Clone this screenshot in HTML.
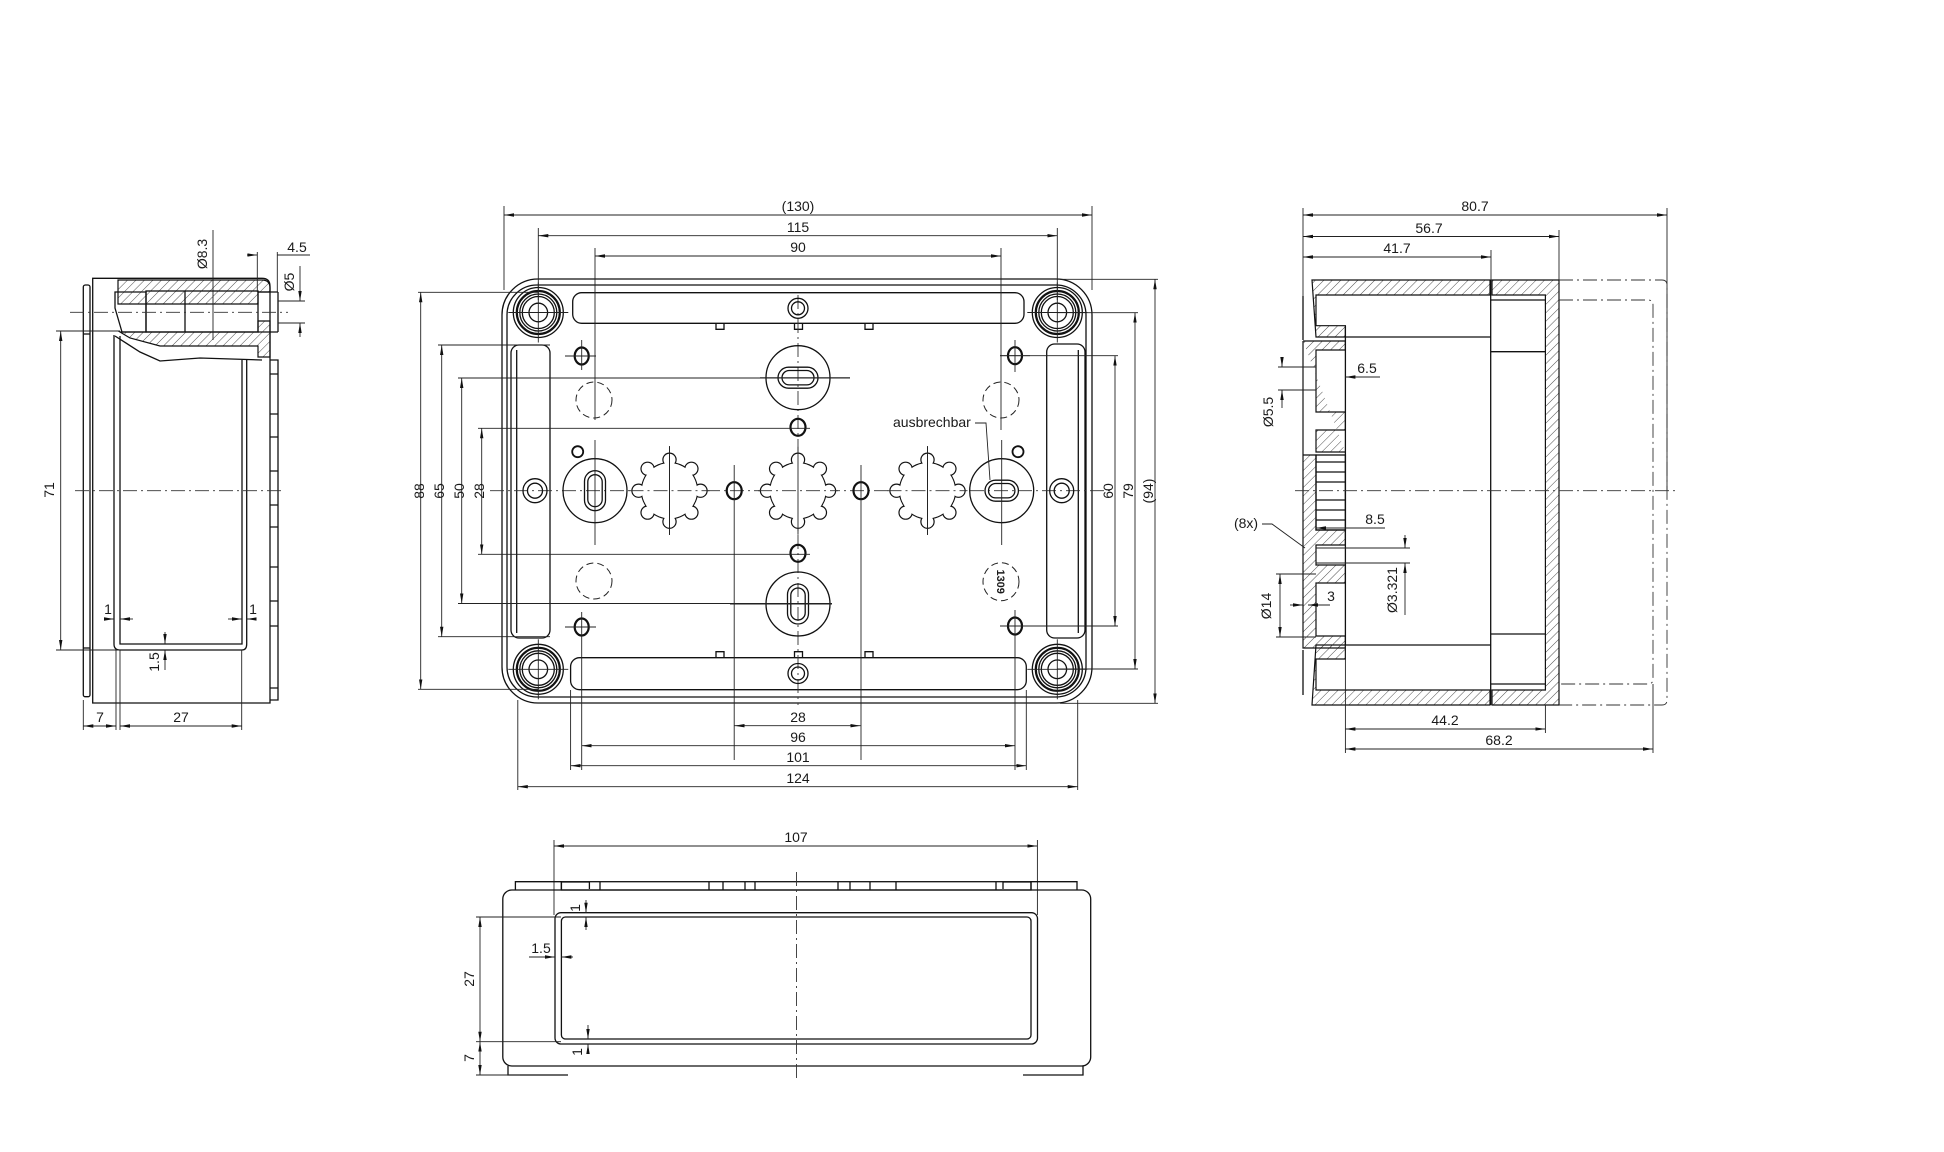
<!DOCTYPE html>
<html><head><meta charset="utf-8"><style>
html,body{margin:0;padding:0;background:#fff}
svg{display:block}
text{font-family:"Liberation Sans",sans-serif;fill:#1a1a1a}
.o{fill:none;stroke:#111;stroke-width:1.3}
.t{fill:none;stroke:#111;stroke-width:2.2}
.d{fill:none;stroke:#222;stroke-width:0.9}
.c{fill:none;stroke:#333;stroke-width:0.9;stroke-dasharray:14 4 2 4}
.dc{fill:none;stroke:#222;stroke-width:1;stroke-dasharray:7 4}
</style></head><body>
<svg width="1944" height="1152" viewBox="0 0 1944 1152" xmlns="http://www.w3.org/2000/svg">
<defs>
<marker id="a" viewBox="0 0 10 6" refX="10" refY="3" markerWidth="10" markerHeight="6" markerUnits="userSpaceOnUse" orient="auto-start-reverse"><path d="M0,1.3 L10,3 L0,4.7z" fill="#111"/></marker>
<pattern id="h" width="6" height="6" patternUnits="userSpaceOnUse" patternTransform="rotate(45)"><line x1="0" y1="0" x2="0" y2="6" stroke="#222" stroke-width="0.8"/></pattern>
<g id="star">
<g fill="#111"><circle r="28.7"/><circle cx="31" cy="0" r="7.2"/><circle cx="-31" cy="0" r="7.2"/><circle cx="0" cy="31" r="7.2"/><circle cx="0" cy="-31" r="7.2"/><circle cx="21.9" cy="21.9" r="7.2"/><circle cx="-21.9" cy="21.9" r="7.2"/><circle cx="21.9" cy="-21.9" r="7.2"/><circle cx="-21.9" cy="-21.9" r="7.2"/></g>
<g fill="#fff"><circle r="27.6"/><circle cx="31" cy="0" r="6"/><circle cx="-31" cy="0" r="6"/><circle cx="0" cy="31" r="6"/><circle cx="0" cy="-31" r="6"/><circle cx="21.9" cy="21.9" r="6"/><circle cx="-21.9" cy="21.9" r="6"/><circle cx="21.9" cy="-21.9" r="6"/><circle cx="-21.9" cy="-21.9" r="6"/></g>
<line class="c" x1="-40" y1="0" x2="40" y2="0"/><line class="d" x1="0" y1="-44" x2="0" y2="44"/>
</g>
<g id="screw"><circle class="o" r="25"/><circle class="t" r="21.5"/><circle class="o" r="18.5"/><circle class="o" r="16"/><circle class="o" r="9.3"/><line class="d" x1="-30" y1="0" x2="30" y2="0"/><line class="d" x1="0" y1="-30" x2="0" y2="30"/></g>
</defs>

<!-- ============ FRONT VIEW ============ -->
<rect class="o" x="502" y="279" width="590" height="424" rx="36"/>
<rect class="o" x="507" y="285" width="579" height="412" rx="30"/>
<rect class="o" x="572.7" y="292.7" width="451.3" height="30.6" rx="9"/>
<rect class="o" x="570.6" y="657.7" width="455.7" height="32" rx="9"/>
<rect class="o" x="511" y="345" width="39" height="293" rx="8"/>
<line class="o" x1="516.7" y1="350" x2="516.7" y2="633"/>
<rect class="o" x="1046.7" y="344" width="38.3" height="294" rx="8"/>
<line class="o" x1="1078.3" y1="350" x2="1078.3" y2="633"/>
<!-- notches -->
<path class="o" d="M716,323.3 v6 h8 v-6 M794.5,323.3 v6 h8 v-6 M865,323.3 v6 h8 v-6 M716,657.7 v-6 h8 v6 M794.5,657.7 v-6 h8 v6 M865,657.7 v-6 h8 v6"/>
<use href="#screw" x="538.3" y="312.5"/>
<use href="#screw" x="1057.3" y="312.5"/>
<use href="#screw" x="538.3" y="669.3"/>
<use href="#screw" x="1057.3" y="669.3"/>
<!-- centerlines -->
<line class="c" x1="490" y1="490.7" x2="1112" y2="490.7"/>
<line class="c" x1="798" y1="295" x2="798" y2="705"/>
<!-- small double circles -->
<circle class="o" cx="798" cy="308.3" r="10"/><circle class="o" cx="798" cy="308.3" r="6.5"/>
<circle class="o" cx="798" cy="673.5" r="10"/><circle class="o" cx="798" cy="673.5" r="6.5"/>
<circle class="o" cx="535" cy="490.7" r="12"/><circle class="o" cx="535" cy="490.7" r="7.5"/>
<circle class="o" cx="1061.7" cy="490.7" r="12"/><circle class="o" cx="1061.7" cy="490.7" r="7.5"/>
<!-- big round knockouts -->
<circle class="o" cx="798" cy="377.7" r="32"/>
<rect class="o" x="778" y="367.2" width="40" height="21" rx="10.5"/><rect class="o" x="782" y="370.5" width="32" height="14.4" rx="7.2"/>
<line class="d" x1="760" y1="377.7" x2="850" y2="377.7"/>
<circle class="o" cx="798" cy="604" r="32"/>
<rect class="o" x="787.5" y="584" width="21" height="40" rx="10.5"/><rect class="o" x="790.8" y="588" width="14.4" height="32" rx="7.2"/>
<line class="d" x1="730" y1="604" x2="832" y2="604"/>
<circle class="o" cx="595" cy="490.7" r="32"/>
<rect class="o" x="584.5" y="470.7" width="21" height="40" rx="10.5"/><rect class="o" x="587.8" y="474.7" width="14.4" height="32" rx="7.2"/>
<circle class="o" cx="1001.7" cy="490.7" r="32"/>
<rect class="o" x="985" y="480.2" width="33.4" height="21" rx="10.5"/><rect class="o" x="988.5" y="483.5" width="26.4" height="14.4" rx="7.2"/>
<!-- stars -->
<use href="#star" x="669.5" y="490.7"/>
<use href="#star" x="798" y="490.7"/>
<use href="#star" x="927.5" y="490.7"/>
<!-- thick small circles -->
<g class="t">
<ellipse cx="734.2" cy="490.7" rx="7.5" ry="8.5"/><ellipse cx="861" cy="490.7" rx="7.5" ry="8.5"/>
<ellipse cx="798" cy="427.3" rx="7.5" ry="8.5"/><ellipse cx="798" cy="553.3" rx="7.5" ry="8.5"/>
<ellipse cx="581.7" cy="356" rx="7" ry="8.5"/><ellipse cx="1015" cy="355.7" rx="7" ry="8.5"/>
<ellipse cx="581.7" cy="627" rx="7" ry="8.5"/><ellipse cx="1015" cy="626" rx="7" ry="8.5"/>
</g>
<circle class="t" cx="577.7" cy="451.7" r="5.5" style="stroke-width:1.8"/>
<circle class="t" cx="1018" cy="451.7" r="5.5" style="stroke-width:1.8"/>
<!-- feature centerlines -->
<g class="d">
<line x1="595" y1="440" x2="595" y2="545"/><line x1="1001.7" y1="440" x2="1001.7" y2="545"/>
<line x1="734.2" y1="465" x2="734.2" y2="760"/><line x1="861" y1="465" x2="861" y2="760"/>
<line x1="565" y1="356" x2="596" y2="356"/><line x1="1000" y1="355.7" x2="1030" y2="355.7"/>
<line x1="565" y1="627" x2="596" y2="627"/><line x1="1000" y1="626" x2="1030" y2="626"/>
<line x1="581.7" y1="340" x2="581.7" y2="370"/><line x1="1015" y1="340" x2="1015" y2="372"/>
<line x1="581.7" y1="612" x2="581.7" y2="770"/><line x1="1015" y1="610" x2="1015" y2="770"/>
<line x1="669.5" y1="446" x2="669.5" y2="535"/><line x1="927.5" y1="446" x2="927.5" y2="535"/>
</g>
<!-- dashed circles -->
<circle class="dc" cx="594" cy="400" r="18"/><circle class="dc" cx="1001" cy="400" r="18"/>
<circle class="dc" cx="594" cy="581" r="18"/><ellipse class="dc" cx="1001" cy="581.7" rx="18" ry="19"/>
<text x="1001" y="581.7" font-size="11" font-weight="bold" text-anchor="middle" transform="rotate(90 1001 581.7)" dy="4">1309</text>
<!-- ausbrechbar -->
<text x="893" y="427" font-size="14">ausbrechbar</text>
<path class="d" d="M975,423 h11 l4,57"/>

<!-- top dims -->
<g class="d">
<line x1="504" y1="206" x2="504" y2="290"/><line x1="1092" y1="206" x2="1092" y2="290"/>
<line x1="504" y1="215" x2="1092" y2="215" marker-start="url(#a)" marker-end="url(#a)"/>
<line x1="538.3" y1="228" x2="538.3" y2="300"/><line x1="1057.3" y1="228" x2="1057.3" y2="300"/>
<line x1="538.3" y1="235.7" x2="1057.3" y2="235.7" marker-start="url(#a)" marker-end="url(#a)"/>
<line x1="595" y1="248" x2="595" y2="420"/><line x1="1001" y1="248" x2="1001" y2="430"/>
<line x1="595" y1="256" x2="1001" y2="256" marker-start="url(#a)" marker-end="url(#a)"/>
</g>
<text x="798" y="211" font-size="14" text-anchor="middle">(130)</text>
<text x="798" y="232" font-size="14" text-anchor="middle">115</text>
<text x="798" y="252" font-size="14" text-anchor="middle">90</text>
<!-- left dims -->
<g class="d">
<line x1="418" y1="292.3" x2="538" y2="292.3"/><line x1="418" y1="689.3" x2="538" y2="689.3"/>
<line x1="420.7" y1="292.3" x2="420.7" y2="689.3" marker-start="url(#a)" marker-end="url(#a)"/>
<line x1="438" y1="345" x2="550" y2="345"/><line x1="438" y1="636.7" x2="550" y2="636.7"/>
<line x1="441.7" y1="345" x2="441.7" y2="636.7" marker-start="url(#a)" marker-end="url(#a)"/>
<line x1="458" y1="378" x2="850" y2="378"/><line x1="458" y1="603.5" x2="832" y2="603.5"/>
<line x1="461.7" y1="378" x2="461.7" y2="603.5" marker-start="url(#a)" marker-end="url(#a)"/>
<line x1="478" y1="428.3" x2="810" y2="428.3"/><line x1="478" y1="554.3" x2="810" y2="554.3"/>
<line x1="481.7" y1="428.3" x2="481.7" y2="554.3" marker-start="url(#a)" marker-end="url(#a)"/>
</g>
<g font-size="14" text-anchor="middle">
<text transform="translate(427 491) rotate(-90)" dy="-3">88</text>
<text transform="translate(447 491) rotate(-90)" dy="-3">65</text>
<text transform="translate(467 491) rotate(-90)" dy="-3">50</text>
<text transform="translate(487 491) rotate(-90)" dy="-3">28</text>
</g>
<!-- right dims -->
<g class="d">
<line x1="1000" y1="355.7" x2="1118" y2="355.7"/><line x1="1000" y1="626" x2="1118" y2="626"/>
<line x1="1115" y1="355.7" x2="1115" y2="626" marker-start="url(#a)" marker-end="url(#a)"/>
<line x1="1057" y1="312.7" x2="1138" y2="312.7"/><line x1="1057" y1="669" x2="1138" y2="669"/>
<line x1="1135" y1="312.7" x2="1135" y2="669" marker-start="url(#a)" marker-end="url(#a)"/>
<line x1="1060" y1="279.3" x2="1158" y2="279.3"/><line x1="1060" y1="703.3" x2="1158" y2="703.3"/>
<line x1="1155" y1="279.3" x2="1155" y2="703.3" marker-start="url(#a)" marker-end="url(#a)"/>
</g>
<g font-size="14" text-anchor="middle">
<text transform="translate(1108 491) rotate(-90)" dy="5">60</text>
<text transform="translate(1128 491) rotate(-90)" dy="5">79</text>
<text transform="translate(1148 491) rotate(-90)" dy="5">(94)</text>
</g>
<!-- bottom dims -->
<g class="d">
<line x1="734.5" y1="725.7" x2="860.5" y2="725.7" marker-start="url(#a)" marker-end="url(#a)"/>
<line x1="581.7" y1="745.7" x2="1015" y2="745.7" marker-start="url(#a)" marker-end="url(#a)"/>
<line x1="570.6" y1="690" x2="570.6" y2="770"/><line x1="1026.3" y1="690" x2="1026.3" y2="770"/>
<line x1="570.6" y1="765.7" x2="1026.3" y2="765.7" marker-start="url(#a)" marker-end="url(#a)"/>
<line x1="517.8" y1="700" x2="517.8" y2="790"/><line x1="1077.7" y1="700" x2="1077.7" y2="790"/>
<line x1="517.8" y1="786.7" x2="1077.7" y2="786.7" marker-start="url(#a)" marker-end="url(#a)"/>
</g>
<g font-size="14" text-anchor="middle">
<text x="798" y="722">28</text><text x="798" y="742">96</text><text x="798" y="762">101</text><text x="798" y="783">124</text>
</g>

<!-- ============ BOTTOM VIEW ============ -->
<g class="d">
<line x1="554" y1="840" x2="554" y2="915"/><line x1="1037.4" y1="840" x2="1037.4" y2="915"/>
<line x1="554" y1="846" x2="1037.4" y2="846" marker-start="url(#a)" marker-end="url(#a)"/>
</g>
<text x="796" y="842" font-size="14" text-anchor="middle">107</text>
<path class="o" d="M515.4,890 v-8.3 h46 v8.3 M1031,890 v-8.3 h46 v8.3 M561.4,889 v-7 h28 v7 M1003,889 v-7 h28 v7"/>
<rect class="o" x="561.4" y="881.7" width="469.6" height="8.3"/>
<path class="o" d="M600,882 v8 M709,882 v8 M723,882 v8 M745,882 v8 M755,882 v8 M838,882 v8 M850,882 v8 M870,882 v8 M896,882 v8 M996,882 v8"/>
<rect class="o" x="502.8" y="890" width="587.9" height="176" rx="9"/>
<rect class="o" x="555" y="912.7" width="482.5" height="131.3" rx="6"/>
<rect class="o" x="561.4" y="917" width="469.6" height="122" rx="4"/>
<path class="o" d="M508,1066 v9 h60 M1023,1075 h60 v-9"/>
<line class="c" x1="796.5" y1="872" x2="796.5" y2="1082"/>
<g class="d">
<line x1="476" y1="917" x2="561" y2="917"/><line x1="476" y1="1041.7" x2="561" y2="1041.7"/><line x1="476" y1="1075" x2="520" y2="1075"/>
<line x1="480" y1="917" x2="480" y2="1041.7" marker-start="url(#a)" marker-end="url(#a)"/>
<line x1="480" y1="1041.7" x2="480" y2="1075" marker-start="url(#a)" marker-end="url(#a)"/>
<line x1="529" y1="957" x2="555" y2="957" marker-end="url(#a)"/><line x1="573" y1="957" x2="561.4" y2="957" marker-end="url(#a)"/>
<line x1="586" y1="900" x2="586" y2="912.7" marker-end="url(#a)"/><line x1="586" y1="930" x2="586" y2="917" marker-end="url(#a)"/>
<line x1="588" y1="1025" x2="588" y2="1039" marker-end="url(#a)"/><line x1="588" y1="1053" x2="588" y2="1044" marker-end="url(#a)"/>
</g>
<g font-size="14" text-anchor="middle">
<text transform="translate(477 979) rotate(-90)" dy="-3">27</text>
<text transform="translate(477 1058) rotate(-90)" dy="-3">7</text>
<text x="541" y="953">1.5</text>
<text transform="translate(582 908) rotate(-90)" dy="-2">1</text>
<text transform="translate(584 1052) rotate(-90)" dy="-2">1</text>
</g>

<!-- ============ LEFT SIDE VIEW ============ -->
<path class="o" d="M92.7,278.3 H262 q8,0 8,8 V703 H92.7 Z"/>
<rect class="o" x="83.3" y="285" width="6.7" height="411.7" rx="2"/>
<line class="o" x1="83.3" y1="334" x2="90" y2="334"/><line class="o" x1="83.3" y1="648" x2="90" y2="648"/>
<path class="o" d="M114,335 V644 q0,6 6,6 H242 q4.7,0 4.7,-6 V360"/>
<path class="o" d="M120,336 V644 H242 V360"/>
<!-- hatched head -->
<path d="M118,280 H262 q8,0 8,8 V292 H258 V304 H118 Z" fill="url(#h)" stroke="#111" stroke-width="1.2"/>
<path d="M120,332 H258 V321 H270 V357 H258 V346 H160 L130,338 Z" fill="url(#h)" stroke="#111" stroke-width="1.2"/>
<rect class="o" x="146" y="291" width="112" height="41" fill="#fff"/>
<line class="o" x1="185" y1="291" x2="185" y2="332"/>
<path class="o" d="M115,292 H146 V332 H122 L115,308 Z"/>
<path class="o" d="M115,336 L140,352 L160,361 L200,358 L262,360"/>
<line class="o" x1="258" y1="292" x2="278" y2="292"/><line class="o" x1="258" y1="332" x2="278" y2="332"/><line class="o" x1="278" y1="292" x2="278" y2="332"/>
<path class="o" d="M270,360 h8 v328 h-8 M270,688 h8 v12 h-8"/>
<path class="o" d="M270,374 h8 M270,414 h8 M270,437 h8 M270,471 h8 M270,505 h8 M270,527 h8 M270,567 h8 M270,601 h8 M270,626 h8"/>
<line class="c" x1="70" y1="312.3" x2="288" y2="312.3"/>
<line class="c" x1="75" y1="490.7" x2="285" y2="490.7"/>
<g class="d">
<line x1="56" y1="331" x2="120" y2="331"/><line x1="56" y1="650" x2="120" y2="650"/>
<line x1="60.7" y1="331" x2="60.7" y2="650" marker-start="url(#a)" marker-end="url(#a)"/>
<line x1="83.3" y1="700" x2="83.3" y2="730"/><line x1="116" y1="650" x2="116" y2="730"/><line x1="120" y1="650" x2="120" y2="730"/><line x1="241.7" y1="650" x2="241.7" y2="730"/>
<line x1="83.3" y1="726" x2="116" y2="726" marker-start="url(#a)" marker-end="url(#a)"/>
<line x1="120" y1="726" x2="241.7" y2="726" marker-start="url(#a)" marker-end="url(#a)"/>
<line x1="213" y1="230" x2="213" y2="340"/>
<line x1="257.3" y1="252" x2="257.3" y2="292"/><line x1="277.3" y1="252" x2="277.3" y2="292"/>
<line x1="247" y1="255" x2="257.3" y2="255" marker-end="url(#a)"/><line x1="277.3" y1="255" x2="310" y2="255"/>
<line x1="278" y1="301" x2="305" y2="301"/><line x1="278" y1="323" x2="305" y2="323"/>
<line x1="300" y1="266" x2="300" y2="301" marker-end="url(#a)"/><line x1="300" y1="337" x2="300" y2="323" marker-end="url(#a)"/>
<line x1="106" y1="619" x2="114" y2="619" marker-end="url(#a)"/><line x1="133" y1="619" x2="120" y2="619" marker-end="url(#a)"/>
<line x1="228" y1="619" x2="242" y2="619" marker-end="url(#a)"/><line x1="255" y1="619" x2="246.7" y2="619" marker-end="url(#a)"/>
<line x1="165" y1="632" x2="165" y2="644" marker-end="url(#a)"/><line x1="165" y1="670" x2="165" y2="650" marker-end="url(#a)"/>
</g>
<g font-size="14" text-anchor="middle">
<text transform="translate(57 490) rotate(-90)" dy="-3">71</text>
<text x="100" y="722">7</text><text x="181" y="722">27</text>
<text x="297" y="252">4.5</text>
<text transform="translate(210 254) rotate(-90)" dy="-3">Ø8.3</text>
<text transform="translate(297 282) rotate(-90)" dy="-3">Ø5</text>
<text x="108" y="614">1</text><text x="253" y="614">1</text>
<text transform="translate(162 662) rotate(-90)" dy="-3">1.5</text>
</g>

<!-- ============ RIGHT SIDE VIEW ============ -->
<!-- hatched walls -->
<path d="M1312,280 H1490 V295 H1316 V325.7 H1345.4 V337 H1316 Z" fill="url(#h)" stroke="#111" stroke-width="1.2"/>
<path d="M1312,705 H1490 V690 H1316 V659 H1345.4 V645 H1316 Z" fill="url(#h)" stroke="#111" stroke-width="1.2"/>
<path d="M1492,280 H1559 V705 H1492 V690 H1545.4 V295 H1492 Z" fill="url(#h)" stroke="#111" stroke-width="1.2"/>
<path d="M1303,341 H1345.4 V350 H1316 V412 H1345.4 V430 H1316 V452 H1345.4 V452 M1303,341 V648 H1345.4 V636 H1316 V583 H1345.4 V565 H1316 V545 H1345.4 V530 H1316 V455 H1303" fill="url(#h)" stroke="#111" stroke-width="1.2"/>
<rect class="o" x="1316" y="455" width="29.4" height="75" fill="#fff"/>
<path class="o" d="M1316,462 h29 M1316,472 h29 M1316,482 h29 M1316,500 h29 M1316,510 h29 M1316,520 h29"/>
<path class="o" d="M1303,296 V340 M1303,650 V695 M1345.4,325.7 V645"/>
<line class="o" x1="1490.7" y1="280" x2="1490.7" y2="705"/>
<path class="o" d="M1490.7,300 H1545 M1490.7,351.7 H1545 M1490.7,634 H1545 M1490.7,684 H1545"/>
<path class="o" d="M1345.4,337 H1490.7 M1345.4,645 H1490.7"/>
<g class="c">
<path d="M1559,280 H1662 q5,0 5,5 V700 q0,5 -5,5 H1559"/>
<path d="M1559,300 H1648 q5,0 5,5 V679 q0,5 -5,5 H1559"/>
<line x1="1295" y1="490.7" x2="1678" y2="490.7"/>
</g>
<g class="d">
<line x1="1303" y1="208" x2="1303" y2="296"/><line x1="1667" y1="208" x2="1667" y2="490"/>
<line x1="1303" y1="215" x2="1667" y2="215" marker-start="url(#a)" marker-end="url(#a)"/>
<line x1="1559" y1="230" x2="1559" y2="280"/>
<line x1="1303" y1="236.5" x2="1559" y2="236.5" marker-start="url(#a)" marker-end="url(#a)"/>
<line x1="1491" y1="250" x2="1491" y2="280"/>
<line x1="1303" y1="257" x2="1491" y2="257" marker-start="url(#a)" marker-end="url(#a)"/>
<line x1="1345.4" y1="645" x2="1345.4" y2="753"/><line x1="1545.4" y1="705" x2="1545.4" y2="733"/><line x1="1653" y1="684" x2="1653" y2="753"/>
<line x1="1345.4" y1="729" x2="1545.4" y2="729" marker-start="url(#a)" marker-end="url(#a)"/>
<line x1="1345.4" y1="749" x2="1653" y2="749" marker-start="url(#a)" marker-end="url(#a)"/>
<line x1="1278" y1="367" x2="1316" y2="367"/><line x1="1278" y1="390" x2="1316" y2="390"/>
<line x1="1282" y1="357" x2="1282" y2="367" marker-end="url(#a)"/><line x1="1282" y1="408" x2="1282" y2="390" marker-end="url(#a)"/>
<line x1="1380" y1="377" x2="1345.4" y2="377" marker-end="url(#a)"/>
<line x1="1385" y1="528" x2="1316" y2="528" marker-end="url(#a)"/>
<path d="M1262,524 H1272 L1305,548"/>
<line x1="1316" y1="548" x2="1410" y2="548"/><line x1="1316" y1="563" x2="1410" y2="563"/>
<line x1="1405" y1="535" x2="1405" y2="548" marker-end="url(#a)"/><line x1="1405" y1="615" x2="1405" y2="563" marker-end="url(#a)"/>
<line x1="1276" y1="574" x2="1316" y2="574"/><line x1="1276" y1="637" x2="1316" y2="637"/>
<line x1="1280" y1="574" x2="1280" y2="637" marker-start="url(#a)" marker-end="url(#a)"/>
<line x1="1290" y1="605" x2="1303" y2="605" marker-end="url(#a)"/><line x1="1330" y1="605" x2="1308" y2="605" marker-end="url(#a)"/>
</g>
<g font-size="14" text-anchor="middle">
<text x="1475" y="211">80.7</text><text x="1429" y="233">56.7</text><text x="1397" y="253">41.7</text>
<text x="1445" y="725">44.2</text><text x="1499" y="745">68.2</text>
<text x="1367" y="373">6.5</text><text x="1375" y="524">8.5</text>
<text x="1246" y="528">(8x)</text>
<text x="1331" y="601">3</text>
<text transform="translate(1276 412) rotate(-90)" dy="-3">Ø5.5</text>
<text transform="translate(1274 606) rotate(-90)" dy="-3">Ø14</text>
<text transform="translate(1400 590) rotate(-90)" dy="-3">Ø3.321</text>
</g>
</svg>
</body></html>
